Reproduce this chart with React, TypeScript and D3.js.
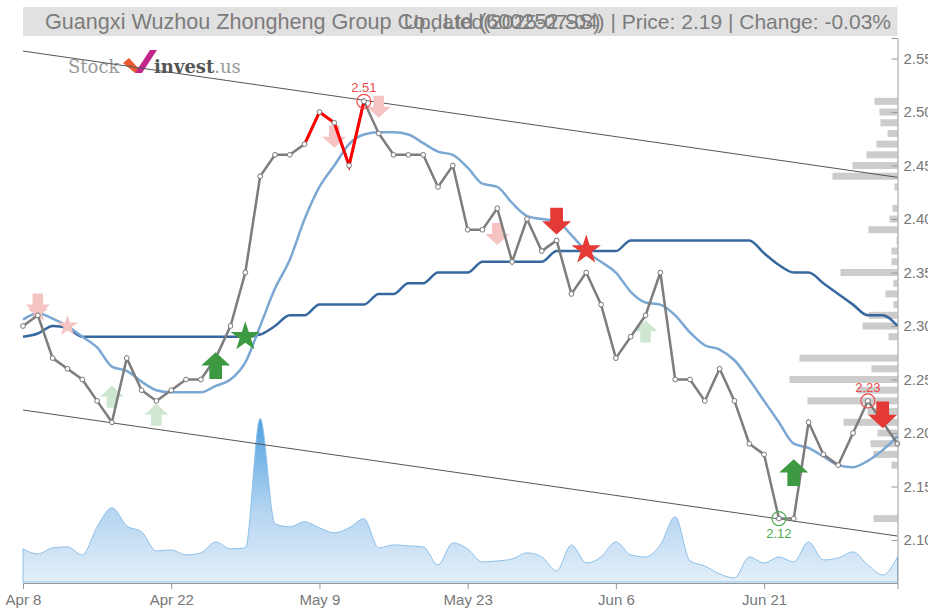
import React, { useRef, useEffect } from 'react';
import * as d3 from 'd3';

const W = 928;
const H = 610;
const FONT = '"Liberation Sans", Arial, sans-serif';

// x axis labels, one every 10 trading days
const dateLabels = ['Apr 8', 'Apr 22', 'May 9', 'May 23', 'Jun 6', 'Jun 21'];
const dateTickIdx = [0, 10, 20, 30, 40, 50];

const closes = [
  2.30, 2.31, 2.27, 2.26, 2.25, 2.23, 2.21, 2.27, 2.24, 2.23,
  2.24, 2.25, 2.25, 2.27, 2.30, 2.35, 2.44, 2.46, 2.46, 2.47,
  2.50, 2.49, 2.45, 2.51, 2.48, 2.46, 2.46, 2.46, 2.43, 2.45,
  2.39, 2.39, 2.41, 2.36, 2.40, 2.37, 2.38, 2.33, 2.35, 2.32,
  2.27, 2.29, 2.31, 2.35, 2.25, 2.25, 2.23, 2.26, 2.23, 2.19,
  2.18, 2.12, 2.12, 2.21, 2.18, 2.17, 2.20, 2.23, 2.21, 2.19,
];
// stretch of the price line drawn in red
const hotRange = [19, 23];

const fastMa = [
  2.306, 2.312, 2.307, 2.300, 2.290, 2.280, 2.262, 2.258, 2.248, 2.240,
  2.238, 2.238, 2.238, 2.244, 2.250, 2.266, 2.300, 2.335, 2.362, 2.400,
  2.430, 2.450, 2.470, 2.479, 2.481, 2.481, 2.479, 2.471, 2.463, 2.460,
  2.448, 2.433, 2.430, 2.415, 2.403, 2.400, 2.398, 2.385, 2.370, 2.360,
  2.350, 2.332, 2.322, 2.320, 2.310, 2.294, 2.282, 2.278, 2.268, 2.250,
  2.230, 2.210, 2.190, 2.186, 2.178, 2.170, 2.168, 2.174, 2.184, 2.197,
];

const slowMa = [
  2.290, 2.293, 2.300, 2.298, 2.290, 2.290, 2.290, 2.290, 2.290, 2.290,
  2.290, 2.290, 2.290, 2.290, 2.290, 2.290, 2.292, 2.300, 2.310, 2.310,
  2.320, 2.320, 2.320, 2.320, 2.330, 2.330, 2.340, 2.340, 2.350, 2.350,
  2.350, 2.360, 2.360, 2.360, 2.360, 2.360, 2.370, 2.370, 2.370, 2.370,
  2.370, 2.380, 2.380, 2.380, 2.380, 2.380, 2.380, 2.380, 2.380, 2.380,
  2.368, 2.357, 2.350, 2.350, 2.340, 2.330, 2.320, 2.310, 2.310, 2.300,
];

const volumes = [
  33, 28, 34, 35, 27, 55, 74, 56, 50, 31,
  32, 27, 29, 40, 33, 34, 163, 58, 55, 60,
  54, 49, 54, 63, 34, 37, 36, 35, 17, 39,
  33, 20, 21, 23, 29, 25, 11, 37, 19, 25,
  40, 27, 25, 37, 65, 21, 16, 8, 4, 25,
  19, 25, 20, 40, 22, 24, 30, 17, 7, 25,
];

// volume by price (right side histogram)
const profilePrices = [
  2.51, 2.50, 2.49, 2.48, 2.47, 2.46, 2.45, 2.44, 2.43, 2.41,
  2.40, 2.39, 2.38, 2.37, 2.36, 2.35, 2.34, 2.33, 2.32, 2.31,
  2.30, 2.29, 2.27, 2.26, 2.25, 2.24, 2.23, 2.22, 2.21, 2.20,
  2.19, 2.18, 2.17, 2.12,
];
const profileVols = [
  23, 18, 17, 10, 21, 31, 45, 65, 3, 5,
  8, 29, 1, 6, 6, 57, 4, 12, 4, 29,
  35, 9, 98, 26, 108, 40, 90, 30, 54, 20,
  27, 24, 6, 24,
];

const priceTicks = [2.10, 2.15, 2.20, 2.25, 2.30, 2.35, 2.40, 2.45, 2.50, 2.55];

// channel lines: [index, price]
const upperTrend: [number, number][] = [[0, 2.557], [59, 2.439]];
const lowerTrend: [number, number][] = [[0, 2.2215], [59, 2.1037]];

const signals = [
  { i: 1, p: 2.320, shape: 'down', side: 'sell', weak: true },
  { i: 1, p: 2.313, shape: 'star', side: 'sell', weak: true },
  { i: 3, p: 2.300, shape: 'star', side: 'sell', weak: true },
  { i: 6, p: 2.234, shape: 'up', side: 'buy', weak: true },
  { i: 9, p: 2.217, shape: 'up', side: 'buy', weak: true },
  { i: 21, p: 2.477, shape: 'down', side: 'sell', weak: true },
  { i: 24, p: 2.505, shape: 'down', side: 'sell', weak: true },
  { i: 32, p: 2.386, shape: 'down', side: 'sell', weak: true },
  { i: 42, p: 2.295, shape: 'up', side: 'buy', weak: true },
  { i: 13, p: 2.263, shape: 'up', side: 'buy', weak: false },
  { i: 15, p: 2.290, shape: 'star', side: 'buy', weak: false },
  { i: 36, p: 2.398, shape: 'down', side: 'sell', weak: false },
  { i: 38, p: 2.371, shape: 'star', side: 'sell', weak: false },
  { i: 52, p: 2.163, shape: 'up', side: 'buy', weak: false },
  { i: 58, p: 2.217, shape: 'down', side: 'sell', weak: false },
];

const extremes = [
  { i: 23, label: '2.51', kind: 'high' },
  { i: 51, label: '2.12', kind: 'low' },
  { i: 57, label: '2.23', kind: 'high' },
];

const titleLeft = 'Guangxi Wuzhou Zhongheng Group Co., Ltd (600252.SS)';
const titleRight = 'Updated(2025-07-04) | Price: 2.19 | Change: -0.03%';

function arrowPath(cx: number, cy: number, up: boolean, w: number) {
  const h = w * 0.92;
  const head = h * 0.5;
  const shaft = w * 0.22;
  const s = up ? 1 : -1;
  const tip = cy - s * h / 2;
  const hb = tip + s * head;
  const end = cy + s * h / 2;
  return `M${cx},${tip}L${cx + w / 2},${hb}L${cx + shaft},${hb}L${cx + shaft},${end}` +
    `L${cx - shaft},${end}L${cx - shaft},${hb}L${cx - w / 2},${hb}Z`;
}

export default function App() {
  const svgRef = useRef<SVGSVGElement>(null);

  useEffect(() => {
    if (!svgRef.current) return;
    const svg = d3.select(svgRef.current);
    svg.selectAll('*').remove();

    const left = 23;
    const right = 897.5;
    const top = 38;
    const bottom = 583;

    const x = d3.scaleLinear().domain([0, closes.length - 1]).range([left, right]);
    const y = d3.scaleLinear().domain([2.0598, 2.5692]).range([bottom, top]);
    const vy = d3.scaleLinear().domain([0, d3.max(volumes) as number]).range([582, 418.5]);
    const pw = d3.scaleLinear().domain([0, d3.max(profileVols) as number]).range([0, 108]);

    const defs = svg.append('defs');
    const grad = defs.append('linearGradient')
      .attr('id', 'volGrad')
      .attr('gradientUnits', 'userSpaceOnUse')
      .attr('x1', 0).attr('x2', 0).attr('y1', 418).attr('y2', bottom);
    grad.append('stop').attr('offset', 0).attr('stop-color', '#4d9fe0');
    grad.append('stop').attr('offset', 0.55).attr('stop-color', '#b3d4f1');
    grad.append('stop').attr('offset', 1).attr('stop-color', '#e4eff9');

    // title bar
    svg.append('rect')
      .attr('x', left).attr('y', 7).attr('width', right - left).attr('height', 29)
      .attr('fill', '#e1e1e1');
    svg.append('text')
      .attr('x', 45).attr('y', 29)
      .attr('font-family', FONT).attr('font-size', 21.6).attr('fill', '#7c7c7c')
      .text(titleLeft);
    svg.append('text')
      .attr('x', 891).attr('y', 29).attr('text-anchor', 'end')
      .attr('font-family', FONT).attr('font-size', 21).attr('fill', '#7c7c7c')
      .text(titleRight);

    // logo
    const logo = svg.append('g');
    logo.append('text')
      .attr('x', 68).attr('y', 73)
      .attr('font-family', '"DejaVu Serif", serif').attr('font-size', 18)
      .attr('fill', '#9a9a9a').text('Stock');
    logo.append('path')
      .attr('d', 'M123,63L129,58L139,69L135,73Z')
      .attr('fill', '#ea5a2e');
    logo.append('path')
      .attr('d', 'M135,73L150,50L157,50L142,73Z')
      .attr('fill', '#c2268a');
    const brand = logo.append('text')
      .attr('x', 154).attr('y', 73)
      .attr('font-family', '"DejaVu Serif", serif').attr('font-size', 18);
    brand.append('tspan').attr('font-weight', 'bold').attr('fill', '#555').text('invest');
    brand.append('tspan').attr('fill', '#999').text('.us');

    // volume area
    const vArea = d3.area<number>()
      .x((_, i) => x(i))
      .y0(582)
      .y1(d => vy(d))
      .curve(d3.curveMonotoneX);
    svg.append('path')
      .datum(volumes)
      .attr('d', vArea)
      .attr('fill', 'url(#volGrad)')
      .attr('stroke', '#8cc0ea')
      .attr('stroke-width', 1);

    // volume by price
    svg.append('g')
      .selectAll('rect')
      .data(profilePrices)
      .join('rect')
      .attr('x', (_, i) => right - pw(profileVols[i]))
      .attr('y', d => y(d) - 3.5)
      .attr('width', (_, i) => pw(profileVols[i]))
      .attr('height', 7)
      .attr('fill', '#cccccc');

    // channel lines
    const trend = d3.line<[number, number]>().x(d => x(d[0])).y(d => y(d[1]));
    [upperTrend, lowerTrend].forEach(t => {
      svg.append('path')
        .datum(t)
        .attr('d', trend)
        .attr('stroke', '#555')
        .attr('stroke-width', 1)
        .attr('fill', 'none');
    });

    // moving averages
    const maLine = d3.line<number>()
      .x((_, i) => x(i))
      .y(d => y(d))
      .curve(d3.curveMonotoneX);
    svg.append('path')
      .datum(slowMa)
      .attr('d', maLine)
      .attr('fill', 'none')
      .attr('stroke', '#36689f')
      .attr('stroke-width', 2.5);
    svg.append('path')
      .datum(fastMa)
      .attr('d', maLine)
      .attr('fill', 'none')
      .attr('stroke', '#7ba7d3')
      .attr('stroke-width', 2.5);

    const drawSignal = (g: d3.Selection<SVGGElement, unknown, null, undefined>, s: typeof signals[number]) => {
      const cx = x(s.i);
      const cy = y(s.p);
      const red = s.side === 'sell';
      const color = s.weak ? (red ? '#f6c3c3' : '#cfe7d0') : (red ? '#e43a36' : '#3e9a42');
      if (s.shape === 'star') {
        const r = s.weak ? 11 : 15.5;
        g.append('path')
          .attr('transform', `translate(${cx},${cy})`)
          .attr('d', d3.symbol().type(d3.symbolStar).size((r * r) / 0.8908130915)())
          .attr('fill', color);
      } else {
        g.append('path')
          .attr('d', arrowPath(cx, cy, s.shape === 'up', s.weak ? 24 : 29))
          .attr('fill', color);
      }
    };

    const weakG = svg.append('g');
    signals.filter(s => s.weak).forEach(s => drawSignal(weakG, s));

    // price line
    const priceLine = d3.line<number>().x((_, i) => x(i)).y(d => y(d));
    svg.append('path')
      .datum(closes)
      .attr('d', priceLine)
      .attr('fill', 'none')
      .attr('stroke', '#7d7d7d')
      .attr('stroke-width', 2.5);
    const hot = closes.map((c, i) => ({ c, i })).filter(d => d.i >= hotRange[0] && d.i <= hotRange[1]);
    svg.append('path')
      .datum(hot)
      .attr('d', d3.line<{ c: number; i: number }>().x(d => x(d.i)).y(d => y(d.c)))
      .attr('fill', 'none')
      .attr('stroke', '#ff0000')
      .attr('stroke-width', 3);

    svg.append('g')
      .selectAll('circle')
      .data(closes)
      .join('circle')
      .attr('cx', (_, i) => x(i))
      .attr('cy', d => y(d))
      .attr('r', 2.4)
      .attr('fill', '#fff')
      .attr('stroke', '#777')
      .attr('stroke-width', 1);

    const strongG = svg.append('g');
    signals.filter(s => !s.weak).forEach(s => drawSignal(strongG, s));

    // highs / lows
    extremes.forEach(e => {
      const cx = x(e.i);
      const cy = y(closes[e.i]);
      const color = e.kind === 'high' ? '#ee4a4a' : '#4cae50';
      svg.append('circle')
        .attr('cx', cx).attr('cy', cy).attr('r', 7)
        .attr('fill', 'none').attr('stroke', color).attr('stroke-width', 1.2);
      svg.append('text')
        .attr('x', cx)
        .attr('y', e.kind === 'high' ? cy - 9 : cy + 19)
        .attr('text-anchor', 'middle')
        .attr('font-family', FONT).attr('font-size', 13)
        .attr('fill', color)
        .text(e.label);
    });

    // axes
    const xAxis = d3.axisBottom(x)
      .tickValues(dateTickIdx)
      .tickFormat((_, i) => dateLabels[i])
      .tickSize(6)
      .tickPadding(5);
    const gx = svg.append('g')
      .attr('transform', `translate(0,${bottom})`)
      .call(xAxis);
    gx.select('.domain').attr('stroke', '#999');
    gx.selectAll('.tick line').attr('stroke', '#999');
    gx.selectAll('.tick text')
      .attr('fill', '#777')
      .style('font-size', '15px')
      .style('font-family', FONT);

    const yAxis = d3.axisRight(y)
      .tickValues(priceTicks)
      .tickFormat(d3.format('.2f'))
      .tickSizeInner(-6)
      .tickSizeOuter(-6)
      .tickPadding(6);
    const gy = svg.append('g')
      .attr('transform', `translate(${right},0)`)
      .call(yAxis);
    gy.select('.domain').attr('stroke', '#999');
    gy.selectAll('.tick line').attr('stroke', '#999');
    gy.selectAll('.tick text')
      .attr('fill', '#777')
      .style('font-size', '15px')
      .style('font-family', FONT);
  }, []);

  return (
    <svg
      ref={svgRef}
      width={W}
      height={H}
      style={{ position: 'absolute', left: 0, top: 0, background: '#fff' }}
    />
  );
}
